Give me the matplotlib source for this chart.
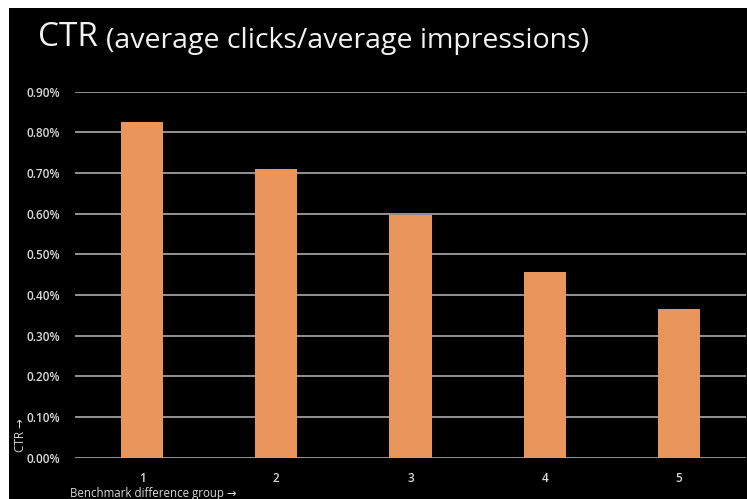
import matplotlib
matplotlib.use("Agg")
import matplotlib.pyplot as plt
from matplotlib.patches import Rectangle
from matplotlib.ticker import FuncFormatter

groups = ["1", "2", "3", "4", "5"]
ctr = [0.825, 0.709, 0.597, 0.456, 0.365]  # percent
yticks = [0.0, 0.1, 0.2, 0.3, 0.4, 0.5, 0.6, 0.7, 0.8, 0.9]

plt.rcParams['font.family'] = ['Open Sans', 'DejaVu Sans']

W, H = 747, 499
fig = plt.figure(figsize=(W / 100, H / 100), dpi=100, facecolor='white')

# black slide background, drawn under the axes
fig.patches.append(Rectangle((9 / W, 0), 1 - 9 / W, 1 - 8 / H, transform=fig.transFigure,
                             facecolor='black', edgecolor='none', zorder=-10))

ax = fig.add_axes([75 / W, 41.3 / H, 671 / W, 366 / H])
ax.set_facecolor('none')

x = range(len(groups))
ax.bar(x, ctr, width=0.315, color='#E9955B', zorder=3)

ax.set_xlim(-0.5, len(groups) - 0.5)
ax.set_ylim(0, 0.9)
ax.set_yticks(yticks)
ax.yaxis.set_major_formatter(FuncFormatter(lambda v, p: f"{v:.2f}%"))
ax.set_xticks(list(x))
ax.set_xticklabels(groups)
ax.grid(axis='y', color='#939393', linewidth=1.4, zorder=1)
ax.grid(axis='x', visible=False)
ax.set_axisbelow(True)
for s in ax.spines.values():
    s.set_visible(False)
ax.tick_params(axis='y', length=0, pad=11, labelsize=8.5, labelcolor='#d9d9d9')
ax.tick_params(axis='x', length=0, pad=10, labelsize=8.5, labelcolor='#d9d9d9')
for lbl in ax.get_xticklabels() + ax.get_yticklabels():
    lbl.set_fontweight('semibold')

fig.text(38 / W, 1 - 38 / H, "CTR", color='#f2f2f2', fontsize=24, va='center', ha='left')
fig.text(106 / W, 1 - 41 / H, "(average clicks/average impressions)", color='#f2f2f2',
         fontsize=20.5, va='center', ha='left')

fig.text(20 / W, 1 - 452 / H, "CTR \u2192", color='#d9d9d9', fontsize=8.5, rotation=90,
         va='bottom', ha='center')
fig.text(70 / W, 1 - 493 / H, "Benchmark difference group \u2192", color='#d9d9d9',
         fontsize=8.3, va='center', ha='left')

fig.savefig("out.png", dpi=100, facecolor='white')
